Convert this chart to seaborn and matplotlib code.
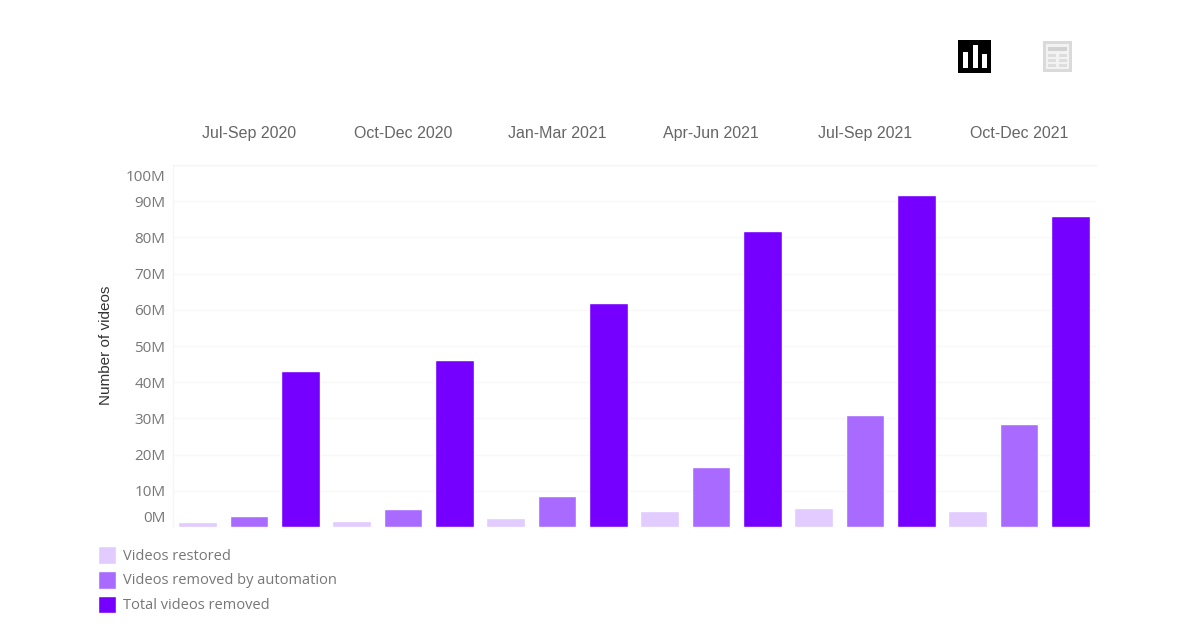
import matplotlib
matplotlib.use('Agg')
import matplotlib.pyplot as plt
from matplotlib.patches import Rectangle
from matplotlib.transforms import ScaledTranslation
import pandas as pd
import seaborn as sns

quarters = ['Jul-Sep 2020', 'Oct-Dec 2020', 'Jan-Mar 2021', 'Apr-Jun 2021', 'Jul-Sep 2021', 'Oct-Dec 2021']
restored = [1.4, 1.7, 2.5, 4.5, 5.3, 4.5]
automation = [3.1, 5.0, 8.6, 16.6, 30.9, 28.4]
total = [43.0, 46.1, 62.0, 81.9, 91.8, 86.0]
y_ticks = [0, 10, 20, 30, 40, 50, 60, 70, 80, 90, 100]
y_labels = ['0M', '10M', '20M', '30M', '40M', '50M', '60M', '70M', '80M', '90M', '100M']
series_names = ['Videos restored', 'Videos removed by automation', 'Total videos removed']
colors = ['#E1CBFF', '#A96AFF', '#7600FF']

df = pd.DataFrame({'quarter': quarters, series_names[0]: restored,
                   series_names[1]: automation, series_names[2]: total})
long_df = df.melt(id_vars='quarter', var_name='series', value_name='videos')

sns.set_style('white')
plt.rcParams['font.family'] = ['Liberation Sans', 'DejaVu Sans']

W, H = 1200, 630
fig = plt.figure(figsize=(W / 100, H / 100), dpi=100)
ax = fig.add_axes([173 / W, 1 - 527 / H, 923 / W, 362 / H])

sns.barplot(data=long_df, x='quarter', y='videos', hue='series', hue_order=series_names,
            palette=colors, saturation=1, width=1, gap=0.25, ax=ax, zorder=3)

ax.set_xlim(-0.494, 5.5)
ax.set_ylim(0, 100)
ax.set_xlabel('')
ax.set_ylabel('Number of videos', fontsize=11, color='#333333')
ax.yaxis.set_label_coords((113 - 173) / 923, 0.503)

ax.xaxis.tick_top()
ax.tick_params(axis='x', length=0, pad=17, labelsize=11.5, labelcolor='#666666')
ax.set_yticks(y_ticks)
ax.set_yticklabels(y_labels)
ax.tick_params(axis='y', length=0, pad=5.5, labelsize=11, labelcolor='#777777')
for lab in ax.get_yticklabels():
    lab.set_fontfamily(['Open Sans', 'DejaVu Sans'])
# first and last labels sit inside the plot area like in the dashboard
ax.get_yticklabels()[0].set_transform(ax.get_yticklabels()[0].get_transform() + ScaledTranslation(0, 10 / 100, fig.dpi_scale_trans))
ax.get_yticklabels()[-1].set_transform(ax.get_yticklabels()[-1].get_transform() + ScaledTranslation(0, -10 / 100, fig.dpi_scale_trans))

ax.grid(axis='y', color='#F8F8F8', lw=1, zorder=0)
ax.set_axisbelow(True)
for side in ['right', 'bottom']:
    ax.spines[side].set_visible(False)
for side in ['left', 'top']:
    ax.spines[side].set_color('#F5F5F5')
    ax.spines[side].set_linewidth(1)

leg = ax.legend(loc='upper left', bbox_to_anchor=(95 / W, 1 - 543 / H), bbox_transform=fig.transFigure,
                frameon=False, handlelength=1.22, handleheight=1.5, handletextpad=0.48,
                labelspacing=0.48, borderpad=0.2, borderaxespad=0,
                prop={'family': ['Open Sans', 'DejaVu Sans'], 'size': 10.5})
for txt in leg.get_texts():
    txt.set_color('#777777')


def px_rect(x0, y0, x1, y1, color):
    fig.add_artist(Rectangle((x0 / W, 1 - y1 / H), (x1 - x0) / W, (y1 - y0) / H,
                             transform=fig.transFigure, fc=color, ec='none'))


# chart / table toggle icons
px_rect(958, 40, 991, 73, '#000000')
px_rect(963, 52, 968, 68, '#FFFFFF')
px_rect(973, 45, 978, 68, '#FFFFFF')
px_rect(982, 54, 987, 68, '#FFFFFF')
px_rect(1043, 41, 1072, 72, '#DADADA')
px_rect(1046, 44, 1069, 69, '#F2F2F2')
px_rect(1048, 47, 1067, 51, '#D2D2D2')
for row_y in (54, 59, 64):
    px_rect(1048, row_y, 1056, row_y + 3, '#DDDDDD')
    px_rect(1059, row_y, 1067, row_y + 3, '#DDDDDD')

fig.savefig('out.png', dpi=100)
